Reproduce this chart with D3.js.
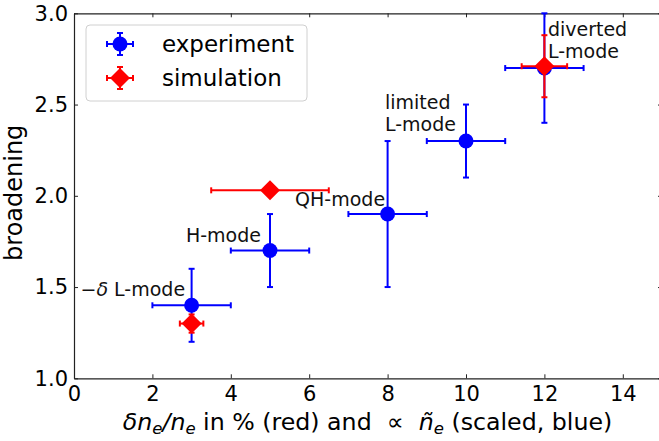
<!DOCTYPE html>
<html>
<head>
<meta charset="utf-8">
<script src="https://cdn.jsdelivr.net/npm/d3@7"></script>
<style>
  body { margin: 0; background: #fff; }
  text { font-family: "DejaVu Sans", sans-serif; }
</style>
</head>
<body>
<div class="graphic"></div>
<script>
// experiment (blue)
let expX = [3, 5, 8, 10, 12];
let expY = [1.4, 1.7, 1.9, 2.3, 2.7];
let expXErr = [1, 1, 1, 1, 1];
let expYErr = [0.2, 0.2, 0.4, 0.2, 0.3];

// simulation (red)
let simX = [3, 5, 12];
let simY = [1.3, 2.03, 2.71];
let simXErr = [0.3, 1.5, 0.58];
let simYErr = [0.05, 0.03, 0.17];

let xTicks = [0, 2, 4, 6, 8, 10, 12, 14];
let yTicks = [1.0, 1.5, 2.0, 2.5, 3.0];

let labels = [
    {x: 3, y: 1.4, lines: ["\u2212", "\u03b4", " L-mode"], dx: -6.5, dy: -9, anchor: "end", multi: false},
    {x: 5, y: 1.7, lines: ["H-mode"], dx: -9, dy: -9, anchor: "end"},
    {x: 8, y: 1.9, lines: ["QH-mode"], dx: -2.5, dy: -8, anchor: "end"},
    {x: 10, y: 2.3, lines: ["limited", "L-mode"], dx: -81, dy: -32, anchor: "start"},
    {x: 12, y: 2.7, lines: ["diverted", "L-mode"], dx: 3.5, dy: -32, anchor: "start"}
];

let W = 659, H = 441;
let svg = d3.select(".graphic")
            .append("svg")
            .attr("width", W)
            .attr("height", H);

let mLeft = 74, mRight = 662, mTop = 13.3, mBottom = 378.3;
let x = d3.scaleLinear().domain([0, 15]).range([mLeft, mRight]);
let y = d3.scaleLinear().domain([1, 3]).range([mBottom, mTop]);

// axes, ticks inward on all sides
let fontTick = 21;
svg.append("g").attr("transform", `translate(0,${mBottom})`)
    .call(d3.axisBottom(x).tickValues(xTicks).tickSizeInner(-4).tickSizeOuter(0).tickPadding(8))
    .call(g => g.selectAll("text").attr("font-size", fontTick).attr("fill", "#000"));
svg.append("g").attr("transform", `translate(0,${mTop})`)
    .call(d3.axisTop(x).tickValues(xTicks).tickSizeInner(-4).tickSizeOuter(0).tickFormat(""));
svg.append("g").attr("transform", `translate(${mLeft},0)`)
    .call(d3.axisLeft(y).tickValues(yTicks).tickSizeInner(-4).tickSizeOuter(0).tickPadding(6).tickFormat(d3.format(".1f")))
    .call(g => g.selectAll("text").attr("font-size", fontTick).attr("fill", "#000"));
svg.append("g").attr("transform", `translate(${mRight},0)`)
    .call(d3.axisRight(y).tickValues(yTicks).tickSizeInner(-4).tickSizeOuter(0).tickFormat(""));
svg.selectAll(".domain").attr("stroke", "#222").attr("stroke-width", 1.2);
svg.selectAll(".tick line").attr("stroke", "#222");

// axis labels
let xl = svg.append("text")
    .attr("x", 367.5)
    .attr("y", 430)
    .attr("text-anchor", "middle")
    .attr("font-size", 23.7);
xl.append("tspan").attr("font-style", "italic").text("\u03b4n");
xl.append("tspan").attr("font-style", "italic").attr("font-size", 16.5).attr("dy", 4).text("e");
xl.append("tspan").attr("font-style", "italic").attr("dy", -4).text("/n");
xl.append("tspan").attr("font-style", "italic").attr("font-size", 16.5).attr("dy", 4).text("e");
xl.append("tspan").attr("dy", -4).text(" in % (red) and \u00a0\u221d\u00a0 ");
xl.append("tspan").attr("font-style", "italic").text("\u00f1");
xl.append("tspan").attr("font-style", "italic").attr("font-size", 16.5).attr("dy", 4).text("e");
xl.append("tspan").attr("dy", -4).text(" (scaled, blue)");

svg.append("text")
    .attr("transform", `translate(22,${(mTop + mBottom) / 2 - 3}) rotate(-90)`)
    .attr("text-anchor", "middle")
    .attr("font-size", 24)
    .text("broadening");

function errorBars(xs, ys, xe, ye, color) {
    let g = svg.append("g").attr("stroke", color).attr("stroke-width", 2);
    xs.forEach(function(d, i) {
        let cx = x(d), cy = y(ys[i]);
        let x0 = x(d - xe[i]), x1 = x(d + xe[i]);
        let y0 = y(ys[i] - ye[i]), y1 = y(ys[i] + ye[i]);
        g.append("line").attr("x1", x0).attr("x2", x1).attr("y1", cy).attr("y2", cy);
        g.append("line").attr("x1", cx).attr("x2", cx).attr("y1", y0).attr("y2", y1);
        [x0, x1].forEach(v => g.append("line").attr("x1", v).attr("x2", v).attr("y1", cy - 3).attr("y2", cy + 3));
        [y0, y1].forEach(v => g.append("line").attr("x1", cx - 3).attr("x2", cx + 3).attr("y1", v).attr("y2", v));
    });
}

function diamond(cx, cy, r) {
    return `M${cx},${cy - r}L${cx + r},${cy}L${cx},${cy + r}L${cx - r},${cy}Z`;
}

errorBars(expX, expY, expXErr, expYErr, "#0000ff");
svg.append("g").selectAll("circle")
    .data(expX)
    .join("circle")
    .attr("cx", d => x(d))
    .attr("cy", (d, i) => y(expY[i]))
    .attr("r", 7.5)
    .attr("fill", "#0000ff");

errorBars(simX, simY, simXErr, simYErr, "#ff0000");
svg.append("g").selectAll("path")
    .data(simX)
    .join("path")
    .attr("d", (d, i) => diamond(x(d), y(simY[i]), 10))
    .attr("fill", "#ff0000");

// annotations
labels.forEach(function(l) {
    let t = svg.append("text")
        .attr("x", x(l.x) + l.dx)
        .attr("y", y(l.y) + l.dy)
        .attr("text-anchor", l.anchor)
        .attr("font-size", 19)
        .attr("fill", "#111");
    if (l.multi === false) {
        // single line with a math part: "−δ L-mode"
        t.append("tspan").text(l.lines[0]);
        t.append("tspan").attr("font-style", "italic").text(l.lines[1]);
        t.append("tspan").text(l.lines[2]);
        return;
    }
    l.lines.forEach(function(s, k) {
        t.append("tspan").attr("x", x(l.x) + l.dx).attr("dy", k === 0 ? 0 : 22).text(s);
    });
});

// legend
let lg = svg.append("g");
lg.append("rect")
    .attr("x", 86).attr("y", 25).attr("width", 221).attr("height", 76)
    .attr("rx", 4)
    .attr("fill", "#fff").attr("fill-opacity", 0.8)
    .attr("stroke", "#d0d0d0");
let entries = [
    {name: "experiment", color: "#0000ff", shape: "circle"},
    {name: "simulation", color: "#ff0000", shape: "diamond"}
];
entries.forEach(function(e, i) {
    let cx = 120, cy = 44 + i * 34;
    let g = lg.append("g").attr("stroke", e.color).attr("stroke-width", 2);
    g.append("line").attr("x1", cx - 13).attr("x2", cx + 13).attr("y1", cy).attr("y2", cy);
    g.append("line").attr("x1", cx).attr("x2", cx).attr("y1", cy - 11).attr("y2", cy + 11);
    [cx - 13, cx + 13].forEach(v => g.append("line").attr("x1", v).attr("x2", v).attr("y1", cy - 3).attr("y2", cy + 3));
    [cy - 11, cy + 11].forEach(v => g.append("line").attr("x1", cx - 3).attr("x2", cx + 3).attr("y1", v).attr("y2", v));
    if (e.shape === "circle") {
        lg.append("circle").attr("cx", cx).attr("cy", cy).attr("r", 7.5).attr("fill", e.color);
    } else {
        lg.append("path").attr("d", diamond(cx, cy, 10)).attr("fill", e.color);
    }
    lg.append("text")
        .attr("x", 162).attr("y", cy + 8)
        .attr("font-size", 23)
        .text(e.name);
});
</script>
</body>
</html>
